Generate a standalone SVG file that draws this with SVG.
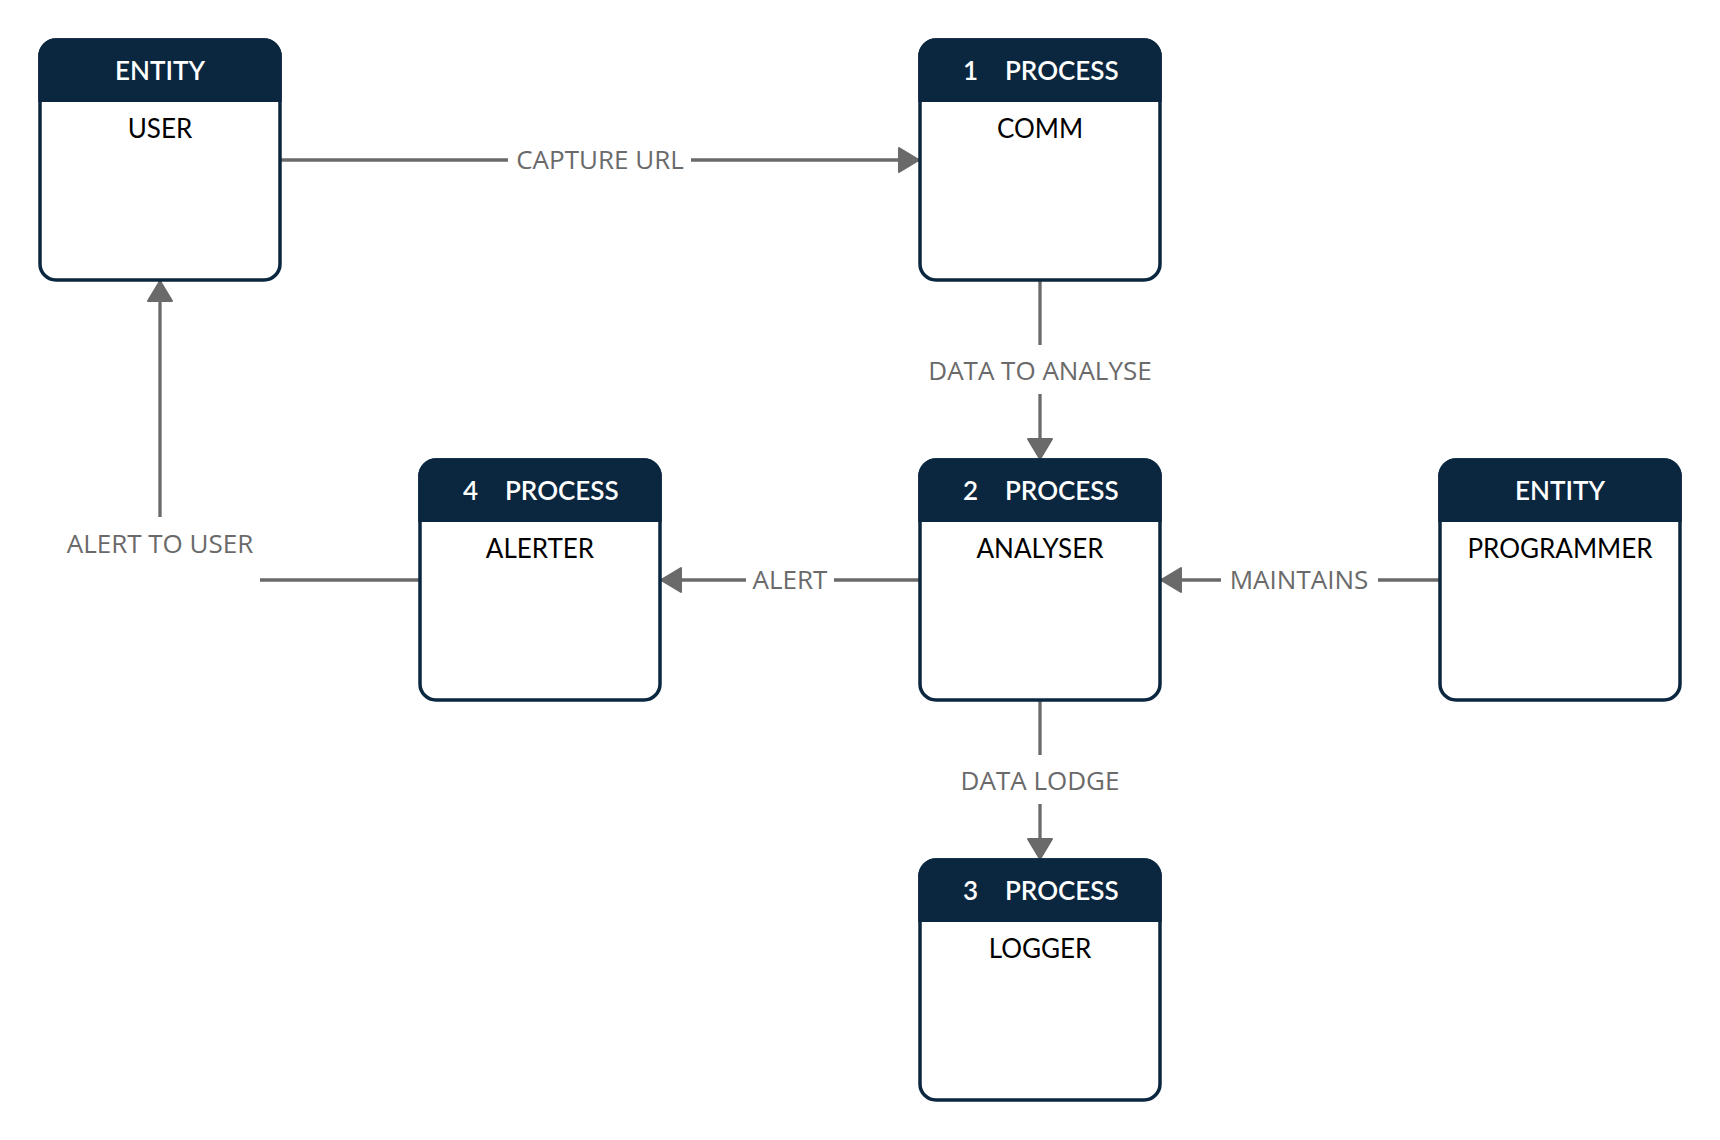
<svg xmlns="http://www.w3.org/2000/svg" width="1720" height="1140" viewBox="0 0 1720 1140">
<style>
.box{fill:#ffffff;stroke:#0b2740;stroke-width:3.5}
.hdr{fill:#0b2740}
.ht{font-family:Lato,"Open Sans","Liberation Sans",sans-serif;font-size:26px;fill:#ffffff;font-weight:600}
.bt{font-family:Lato,"Open Sans","Liberation Sans",sans-serif;font-size:26px;fill:#000000;text-anchor:middle}
.ln{fill:none;stroke:#6a6a6a;stroke-width:3.3}
.lb{font-family:"Open Sans","Noto Sans","Liberation Sans",sans-serif;font-size:26px;fill:#6a6a6a;text-anchor:middle}
.bg{fill:#ffffff}
</style>
<defs>
<marker id="arr" markerUnits="userSpaceOnUse" viewBox="0 0 24 28" refX="22" refY="14" markerWidth="24" markerHeight="28" orient="auto">
<path d="M2,2 L22,14 L2,26 Z" fill="#6a6a6a" stroke="#6a6a6a" stroke-width="2" stroke-linejoin="round"/>
</marker>
</defs>
<rect width="1720" height="1140" fill="#ffffff"/>

<g id="connectors">
<g id="c-capture">
<path class="ln" d="M280,160 H919" marker-end="url(#arr)"/>
<rect class="bg" x="508" y="140" width="183" height="40"/>
<text class="lb" x="600" y="169">CAPTURE URL</text>
</g>
<g id="c-analyse">
<path class="ln" d="M1040,280 V459" marker-end="url(#arr)"/>
<rect class="bg" x="925" y="345" width="230" height="49"/>
<text class="lb" x="1040" y="380">DATA TO ANALYSE</text>
</g>
<g id="c-alert">
<path class="ln" d="M920,580 H661" marker-end="url(#arr)"/>
<rect class="bg" x="746" y="560" width="88" height="40"/>
<text class="lb" x="790" y="589">ALERT</text>
</g>
<g id="c-maintains">
<path class="ln" d="M1440,580 H1161" marker-end="url(#arr)"/>
<rect class="bg" x="1221" y="560" width="157" height="40"/>
<text class="lb" x="1299" y="589">MAINTAINS</text>
</g>
<g id="c-lodge">
<path class="ln" d="M1040,700 V859" marker-end="url(#arr)"/>
<rect class="bg" x="925" y="755" width="230" height="49"/>
<text class="lb" x="1040" y="790">DATA LODGE</text>
</g>
<g id="c-alertuser">
<path class="ln" d="M420,580 H160 V281" marker-end="url(#arr)"/>
<rect class="bg" x="56" y="517" width="204" height="66"/>
<text class="lb" x="160" y="553">ALERT TO USER</text>
</g>
</g>

<g id="node-user" transform="translate(40,40)">
<rect class="box" x="0" y="0" width="240" height="240" rx="16"/>
<path class="hdr" d="M-1.75,62 V16 A17.75,17.75 0 0 1 16,-1.75 H224 A17.75,17.75 0 0 1 241.75,16 V62 Z"/>
<text class="ht" x="120" y="40" text-anchor="middle">ENTITY</text>
<text class="bt" x="120" y="98">USER</text>
</g>

<g id="node-comm" transform="translate(920,40)">
<rect class="box" x="0" y="0" width="240" height="240" rx="16"/>
<path class="hdr" d="M-1.75,62 V16 A17.75,17.75 0 0 1 16,-1.75 H224 A17.75,17.75 0 0 1 241.75,16 V62 Z"/>
<text class="ht"><tspan x="43" y="40">1</tspan><tspan x="85" y="40">PROCESS</tspan></text>
<text class="bt" x="120" y="98">COMM</text>
</g>

<g id="node-analyser" transform="translate(920,460)">
<rect class="box" x="0" y="0" width="240" height="240" rx="16"/>
<path class="hdr" d="M-1.75,62 V16 A17.75,17.75 0 0 1 16,-1.75 H224 A17.75,17.75 0 0 1 241.75,16 V62 Z"/>
<text class="ht"><tspan x="43" y="40">2</tspan><tspan x="85" y="40">PROCESS</tspan></text>
<text class="bt" x="120" y="98">ANALYSER</text>
</g>

<g id="node-alerter" transform="translate(420,460)">
<rect class="box" x="0" y="0" width="240" height="240" rx="16"/>
<path class="hdr" d="M-1.75,62 V16 A17.75,17.75 0 0 1 16,-1.75 H224 A17.75,17.75 0 0 1 241.75,16 V62 Z"/>
<text class="ht"><tspan x="43" y="40">4</tspan><tspan x="85" y="40">PROCESS</tspan></text>
<text class="bt" x="120" y="98">ALERTER</text>
</g>

<g id="node-programmer" transform="translate(1440,460)">
<rect class="box" x="0" y="0" width="240" height="240" rx="16"/>
<path class="hdr" d="M-1.75,62 V16 A17.75,17.75 0 0 1 16,-1.75 H224 A17.75,17.75 0 0 1 241.75,16 V62 Z"/>
<text class="ht" x="120" y="40" text-anchor="middle">ENTITY</text>
<text class="bt" x="120" y="98">PROGRAMMER</text>
</g>

<g id="node-logger" transform="translate(920,860)">
<rect class="box" x="0" y="0" width="240" height="240" rx="16"/>
<path class="hdr" d="M-1.75,62 V16 A17.75,17.75 0 0 1 16,-1.75 H224 A17.75,17.75 0 0 1 241.75,16 V62 Z"/>
<text class="ht"><tspan x="43" y="40">3</tspan><tspan x="85" y="40">PROCESS</tspan></text>
<text class="bt" x="120" y="98">LOGGER</text>
</g>
</svg>
